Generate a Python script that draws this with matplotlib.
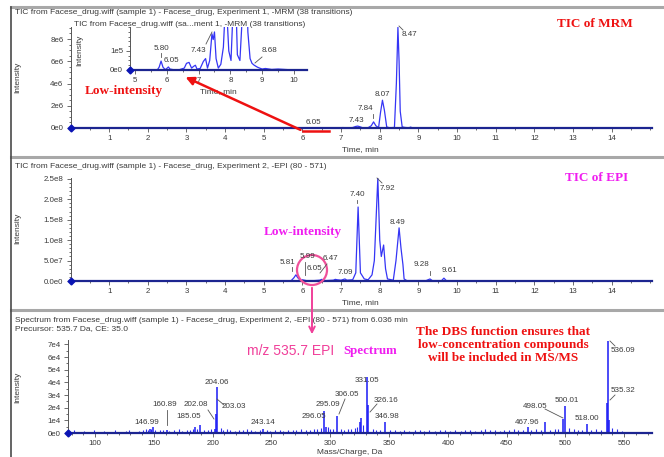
import matplotlib.pyplot as plt
from matplotlib.ticker import AutoMinorLocator, MultipleLocator
from matplotlib.patches import Circle

W, H = 664, 457

# ---- values ----
# panel 1: TIC of MRM (intensity in counts)
mrm_time = [0, 6.9, 7.05, 7.1, 7.2, 7.3, 7.38, 7.43, 7.48, 7.55, 7.7, 7.78, 7.84, 7.9, 7.97,
            8.02, 8.07, 8.12, 8.18, 8.25, 8.38, 8.43, 8.47, 8.5, 8.53, 8.58, 8.65, 8.75, 8.8, 8.85, 15.03]
mrm_int = [0, 0, 0.04e6, 0.02e6, 0.02e6, 0.04e6, 0.14e6, 0.17e6, 0.12e6, 0.03e6, 0.03e6, 0.2e6, 0.55e6,
           0.2e6, 0.03e6, 1.4e6, 2.5e6, 1.6e6, 0.1e6, 0.02e6, 0.05e6, 4.0e6, 9.05e6, 6.0e6, 1.5e6,
           0.1e6, 0.05e6, 0.02e6, 0.08e6, 0, 0]
mrm_yticks = [0, 2e6, 4e6, 6e6, 8e6]
mrm_yticklabels = ['0e0', '2e6', '4e6', '6e6', '8e6']

# inset: zoom of the MRM trace
ins_time = [4.84, 5.7, 5.76, 5.82, 5.88, 5.95, 6.0, 6.05, 6.1, 6.2, 6.4, 6.55, 6.62, 6.7, 6.78, 6.85,
            6.9, 6.95, 7.05, 7.15, 7.22, 7.28, 7.35, 7.42, 7.46, 7.5, 7.55, 7.62, 7.7, 7.78, 7.86, 7.95,
            8.02, 8.08, 8.15, 8.22, 8.3, 8.38, 8.46, 8.55, 8.62, 8.68, 8.75, 8.85, 8.92, 9.0, 9.1, 9.3,
            9.5, 9.8, 10.41]
ins_int = [0, 0, 0.15e5, 0.47e5, 0.15e5, 0.02e5, 0.08e5, 0.16e5, 0.05e5, 0.02e5, 0.02e5, 0.1e5,
           0.35e5, 0.4e5, 0.1e5, 0.2e5, 0.25e5, 0.05e5, 0.08e5, 0.45e5, 0.6e5, 0.1e5, 0.5e5, 1.9e5,
           1.6e5, 2.0e5, 0.6e5, 0.1e5, 0.3e5, 1.2e5, 4.0e5, 1.0e5, 0.5e5, 3.0e5, 5.0e5, 0.8e5, 0.5e5,
           3.0e5, 9.0e5, 2.0e5, 0.6e5, 0.35e5, 0.25e5, 0.15e5, 0.1e5, 0.05e5, 0.08e5, 0.03e5, 0.05e5,
           0.02e5, 0.02e5]
ins_yticks = [0, 1e5]
ins_yticklabels = ['0e0', '1e5']

# panel 2: TIC of EPI
epi_time = [0, 5.7, 5.78, 5.83, 5.88, 5.95, 6.0, 6.05, 6.1, 6.3, 6.45, 6.5, 6.6, 6.8, 6.85, 6.9, 7.0,
            7.1, 7.15, 7.3, 7.38, 7.44, 7.5, 7.6, 7.7, 7.8, 7.86, 7.95, 8.0, 8.04, 8.1, 8.15, 8.2, 8.35,
            8.42, 8.5, 8.55, 8.6, 8.63, 8.7, 9.2, 9.3, 9.36, 9.6, 9.66, 9.72, 15.03]
epi_int = [0, 0, 0.08e8, 0.15e8, 0.08e8, 0.01e8, 0.03e8, 0.02e8, 0.01e8, 0.01e8, 0.02e8, 0.04e8,
           0.01e8, 0.02e8, 0.04e8, 0.03e8, 0.02e8, 0.05e8, 0.02e8, 0.03e8, 0.2e8, 1.81e8, 0.2e8,
           0.05e8, 0.03e8, 0.15e8, 0.5e8, 2.52e8, 1.0e8, 0.6e8, 0.88e8, 0.3e8, 0.05e8, 0.02e8, 0.5e8,
           1.3e8, 0.8e8, 0.4e8, 0.05e8, 0.01e8, 0.01e8, 0.05e8, 0.01e8, 0.01e8, 0.07e8, 0.01e8, 0]
epi_yticks = [0, 5e7, 1e8, 1.5e8, 2e8, 2.5e8]
epi_yticklabels = ['0.0e0', '5.0e7', '1.0e8', '1.5e8', '2.0e8', '2.5e8']

# panel 3: EPI spectrum, labelled peaks
peak_mz = [146.99, 149.5, 160.89, 185.05, 189.5, 202.08, 203.03, 204.06, 243.14, 295.09, 296.05,
           306.05, 325.2, 326.16, 331.05, 332.4, 346.98, 467.96, 483.0, 498.05, 500.01, 518.00,
           535.32, 536.09, 537.2]
peak_int = [0.35e4, 0.45e4, 0.2e4, 0.45e4, 0.65e4, 0.3e4, 1.5e4, 3.6e4, 0.3e4, 1.75e4, 0.5e4,
            1.35e4, 0.9e4, 1.2e4, 4.4e4, 2.2e4, 0.9e4, 0.5e4, 0.85e4, 1.1e4, 2.1e4, 0.7e4,
            2.4e4, 7.3e4, 1.0e4]
# small background peaks
noise_mz = [82, 86, 91, 95, 99, 104, 108, 113, 117, 121, 126, 129, 133, 137, 141, 143, 145, 148, 151,
            155, 158, 163, 167, 171, 174, 178, 181, 183, 187, 193, 196, 199, 207, 209, 212, 215, 219,
            222, 226, 229, 233, 236, 240, 246, 249, 253, 257, 260, 264, 268, 271, 275, 279, 283, 286,
            289, 292, 298, 300, 302, 309, 312, 315, 318, 321, 323, 328, 336, 339, 342, 351, 355, 359,
            363, 367, 372, 376, 380, 384, 389, 393, 398, 402, 406, 411, 415, 419, 423, 428, 432, 436,
            440, 444, 448, 452, 456, 460, 464, 471, 475, 479, 487, 491, 494, 503, 507, 511, 514, 522,
            526, 530, 540, 544, 548]
noise_int = [0.2e4, 0.1e4, 0.15e4, 0.1e4, 0.2e4, 0.1e4, 0.15e4, 0.1e4, 0.2e4, 0.1e4, 0.15e4, 0.25e4,
             0.1e4, 0.15e4, 0.2e4, 0.3e4, 0.25e4, 0.3e4, 0.2e4, 0.25e4, 0.2e4, 0.15e4, 0.2e4, 0.3e4,
             0.15e4, 0.2e4, 0.25e4, 0.35e4, 0.3e4, 0.2e4, 0.25e4, 0.3e4, 0.4e4, 0.2e4, 0.3e4, 0.2e4,
             0.15e4, 0.25e4, 0.2e4, 0.3e4, 0.2e4, 0.15e4, 0.25e4, 0.2e4, 0.15e4, 0.2e4, 0.25e4, 0.15e4,
             0.2e4, 0.25e4, 0.2e4, 0.3e4, 0.2e4, 0.25e4, 0.3e4, 0.35e4, 0.4e4, 0.45e4, 0.3e4, 0.35e4,
             0.3e4, 0.25e4, 0.35e4, 0.3e4, 0.4e4, 0.5e4, 0.6e4, 0.3e4, 0.25e4, 0.2e4, 0.2e4, 0.25e4,
             0.15e4, 0.2e4, 0.15e4, 0.2e4, 0.25e4, 0.15e4, 0.2e4, 0.15e4, 0.2e4, 0.25e4, 0.15e4, 0.2e4,
             0.15e4, 0.2e4, 0.25e4, 0.15e4, 0.2e4, 0.3e4, 0.25e4, 0.2e4, 0.15e4, 0.25e4, 0.2e4, 0.3e4,
             0.2e4, 0.25e4, 0.2e4, 0.3e4, 0.25e4, 0.2e4, 0.3e4, 0.35e4, 0.4e4, 0.3e4, 0.2e4, 0.25e4,
             0.2e4, 0.3e4, 0.2e4, 0.4e4, 0.3e4, 0.15e4]
spec_yticks = [0, 1e4, 2e4, 3e4, 4e4, 5e4, 6e4, 7e4]
spec_yticklabels = ['0e0', '1e4', '2e4', '3e4', '4e4', '5e4', '6e4', '7e4']

plt.rcParams['font.family'] = ['Liberation Sans', 'DejaVu Sans']

TRACE = '#3535f5'
BASE = '#1c2590'
GREY = '#3a3a3a'
SERIF = ['Liberation Serif', 'DejaVu Serif']


def box(x0, y0, x1, y1):
    # pixel box (top-left origin) -> figure fraction rect
    return [x0 / W, 1 - y1 / H, (x1 - x0) / W, (y1 - y0) / H]


def style(ax, yticks, ylabels, nminor_y):
    for s in ['top', 'right']:
        ax.spines[s].set_visible(False)
    ax.spines['left'].set_color('#555555')
    ax.spines['left'].set_linewidth(0.7)
    ax.spines['bottom'].set_color(BASE)
    ax.spines['bottom'].set_linewidth(1.6)
    ax.set_yticks(yticks)
    ax.set_yticklabels(ylabels)
    ax.yaxis.set_minor_locator(AutoMinorLocator(nminor_y))
    ax.tick_params(which='both', direction='out', labelsize=5.7, colors='#555555',
                   labelcolor=GREY, width=0.6, pad=2)
    ax.tick_params(which='major', length=3)
    ax.tick_params(which='minor', length=1.5)
    ax.patch.set_alpha(0)
    x0 = ax.get_xlim()[0]
    ax.plot(x0, 0, marker='D', ms=3.5, color='#0a14b4', clip_on=False, zorder=5)


fig = plt.figure(figsize=(W / 100, H / 100), dpi=100)

# ---- panel 1 ----
ax1 = fig.add_axes(box(70.5, 27, 651.5, 128))
ax1.plot(mrm_time, mrm_int, color=TRACE, lw=0.9)
ax1.set_xlim(0, 15.03)
ax1.set_ylim(0, 9.08e6)
ax1.set_xticks(range(1, 15))
ax1.xaxis.set_minor_locator(MultipleLocator(0.5))
style(ax1, mrm_yticks, mrm_yticklabels, 4)

# inset
axi = fig.add_axes(box(130, 27, 307, 70))
axi.plot(ins_time, ins_int, color=TRACE, lw=0.9)
axi.set_xlim(4.843, 10.41)
axi.set_ylim(0, 2.26e5)
axi.set_xticks(range(5, 11))
axi.xaxis.set_minor_locator(MultipleLocator(0.5))
style(axi, ins_yticks, ins_yticklabels, 4)

# ---- panel 2 ----
ax2 = fig.add_axes(box(70.5, 178, 651.5, 281))
ax2.plot(epi_time, epi_int, color=TRACE, lw=0.9)
ax2.set_xlim(0, 15.03)
ax2.set_ylim(0, 2.52e8)
ax2.set_xticks(range(1, 15))
ax2.xaxis.set_minor_locator(MultipleLocator(0.5))
style(ax2, epi_yticks, epi_yticklabels, 5)

# ---- panel 3 ----
ax3 = fig.add_axes(box(68, 340, 652, 433))
ax3.vlines(noise_mz, 0, noise_int, color='#2a2af0', lw=0.8)
ax3.vlines(peak_mz, 0, peak_int, color='#1a1af5', lw=1.1)
ax3.set_xlim(77, 573.6)
ax3.set_ylim(0, 7.35e4)
ax3.set_xticks(range(100, 551, 50))
ax3.xaxis.set_minor_locator(MultipleLocator(10))
style(ax3, spec_yticks, spec_yticklabels, 2)

# ---- overlay in pixel coordinates for frame, titles and annotations ----
ov = fig.add_axes([0, 0, 1, 1], zorder=10)
ov.set_xlim(0, W)
ov.set_ylim(H, 0)
ov.axis('off')
ov.patch.set_alpha(0)

for yy in [7, 157, 310]:
    ov.plot([11, W], [yy, yy], color='#a8a8a8', lw=2.2)
ov.plot([11, 11], [7, H], color='#4a4a4a', lw=1.2)

small = dict(fontsize=6.0, color=GREY)
ov.text(15, 13, 'TIC from Facese_drug.wiff (sample 1) - Facese_drug, Experiment 1, -MRM (38 transitions)',
        va='center', **small)
ov.text(190, 24, 'TIC from Facese_drug.wiff (sa...ment 1, -MRM (38 transitions)', va='center',
        ha='center', **small)
ov.text(15, 166, 'TIC from Facese_drug.wiff (sample 1) - Facese_drug, Experiment 2, -EPI (80 - 571)',
        va='center', **small)
ov.text(15, 320, 'Spectrum from Facese_drug.wiff (sample 1) - Facese_drug, Experiment 2, -EPI (80 - 571) '
        'from 6.036 min', va='center', **small)
ov.text(15, 329, 'Precursor: 535.7 Da, CE: 35.0', va='center', **small)

for yy in [77, 228, 387]:
    ov.text(18, yy, 'Intensity', rotation=90, ha='center', va='center', **small)
ov.text(80, 50, 'Intensity', rotation=90, ha='center', va='center', **small)
ov.text(360, 150, 'Time, min', ha='center', va='center', **small)
ov.text(218, 92, 'Time, min', ha='center', va='center', **small)
ov.text(360, 303, 'Time, min', ha='center', va='center', **small)
ov.text(350, 452, 'Mass/Charge, Da', ha='center', va='center', **small)

lab = dict(fontsize=5.8, color=GREY, ha='center', va='center')


def tick_line(x0, y0, x1, y1):
    ov.plot([x0, x1], [y0, y1], color='#555555', lw=0.6)


# panel 1 peak labels
ov.text(313, 122, '6.05', **lab)
ov.text(356, 121, '7.43', **lab)
ov.text(365, 108, '7.84', **lab)
tick_line(373, 114, 373, 118)
ov.text(382, 95, '8.07', **lab)
ov.text(409, 35, '8.47', **lab)
tick_line(399, 26, 403, 30)
# inset labels
ov.text(161, 48, '5.80', **lab)
tick_line(161, 53, 161, 57)
ov.text(171, 61, '6.05', **lab)
ov.text(198, 50, '7.43', **lab)
tick_line(206, 44, 212, 32)
ov.text(270, 50, '8.68', **lab)
tick_line(262, 57, 255, 63)
# panel 2 labels
ov.text(287, 262, '5.81', **lab)
tick_line(292, 267, 292, 271)
ov.text(307, 256, '5.99', **lab)
ov.text(314, 268, '6.05', **lab)
tick_line(305, 262, 305, 275)
ov.text(330, 259, '6.47', **lab)
tick_line(327, 264, 320, 273)
ov.text(345, 272, '7.09', **lab)
ov.text(357, 194, '7.40', **lab)
tick_line(357, 200, 357, 203)
ov.text(387, 188, '7.92', **lab)
tick_line(377, 178, 382, 183)
ov.text(398, 222, '8.49', **lab)
ov.text(422, 265, '9.28', **lab)
tick_line(430, 271, 430, 275)
ov.text(450, 271, '9.61', **lab)
# panel 3 labels
ov.text(147, 422, '146.99', **lab)
ov.text(165, 404, '160.89', **lab)
tick_line(167, 410, 167, 425)
ov.text(189, 417, '185.05', **lab)
ov.text(196, 405, '202.08', **lab)
tick_line(208, 410, 214, 419)
ov.text(217, 382, '204.06', **lab)
ov.text(234, 407, '203.03', **lab)
tick_line(217, 399, 224, 405)
ov.text(263, 422, '243.14', **lab)
ov.text(314, 416, '296.05', **lab)
ov.text(328, 404, '295.09', **lab)
ov.text(347, 394, '306.05', **lab)
tick_line(345, 399, 339, 414)
ov.text(367, 380, '331.05', **lab)
ov.text(386, 400, '326.16', **lab)
tick_line(377, 404, 370, 412)
ov.text(387, 417, '346.98', **lab)
ov.text(527, 423, '467.96', **lab)
ov.text(535, 406, '498.05', **lab)
tick_line(545, 409, 563, 418)
ov.text(567, 401, '500.01', **lab)
ov.text(587, 419, '518.00', **lab)
ov.text(623, 350, '536.09', **lab)
tick_line(610, 341, 615, 346)
ov.text(623, 391, '535.32', **lab)
tick_line(615, 395, 610, 400)

# red / magenta call-outs
bold_red = dict(fontfamily=SERIF, fontweight='bold', color='#ee1111')
ov.text(595, 24, 'TIC of MRM', ha='center', va='center', fontsize=9.5, **bold_red)
ov.text(124, 91, 'Low-intensity', ha='center', va='center', fontsize=9.5, **bold_red)
ov.text(503, 345, 'The DBS function ensures that\nlow-concentration compounds\nwill be included in MS/MS',
        ha='center', va='center', fontsize=9.5, linespacing=1.1, **bold_red)
ov.plot([303, 329], [131, 131], color='#ee1111', lw=1.8)
ov.annotate('', xy=(183, 76), xytext=(303, 131),
            arrowprops=dict(arrowstyle='-|>', color='#ee1111', lw=1.8, mutation_scale=12))

bold_mag = dict(fontfamily=SERIF, fontweight='bold', color='#f01df0')
ov.text(597, 178, 'TIC of EPI', ha='center', va='center', fontsize=9.5, **bold_mag)
ov.text(303, 232, 'Low-intensity', ha='center', va='center', fontsize=9.5, **bold_mag)
ov.text(370, 351, 'Spectrum', ha='center', va='center', fontsize=9.3, **bold_mag)
ov.text(291, 351, 'm/z 535.7 EPI', ha='center', va='center', fontsize=10.0, color='#f0409a')

ov.add_patch(Circle((312, 270), 15, fill=False, ec='#f0509a', lw=1.6))
ov.annotate('', xy=(312, 337), xytext=(312, 285),
            arrowprops=dict(arrowstyle='->', color='#f0409a', lw=1.4, mutation_scale=10))

fig.savefig('out.png', dpi=100)
